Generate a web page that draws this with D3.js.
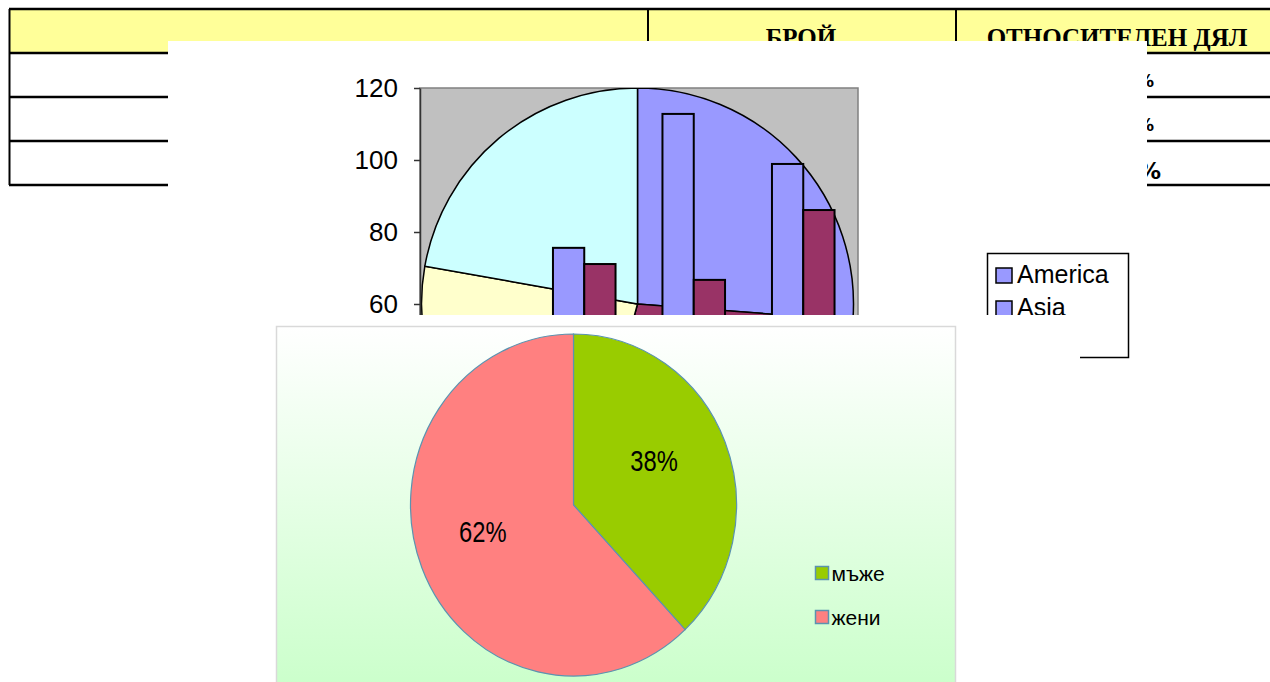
<!DOCTYPE html>
<html>
<head>
<meta charset="utf-8">
<script src="https://cdn.jsdelivr.net/npm/d3@7"></script>
<style>
  body { margin: 0; background: #fff; }
  svg { display: block; }
</style>
</head>
<body>
<div id="chart"></div>
<script>
// table in the background
const tableHeaders = ["", "БРОЙ", "ОТНОСИТЕЛЕН ДЯЛ"];
const tableShares = ["38%", "62%", "100%"];

// bar chart (top picture)
const categories = ["1", "2", "3", "4"];
const seriesNames = ["America", "Asia"];
const americaValues = [48, 75.6, 112.8, 98.9];
const asiaValues = [44, 71.1, 66.7, 86.1];
const yTicks = [0, 20, 40, 60, 80, 100, 120];
const legendNames = ["America", "Asia"];
const pieRegions = ["America", "Asia", "Europe", "Other"];
const pieShares = [26.2, 28, 23.6, 22.2];

// gender pie (bottom picture)
const genders = ["мъже", "жени"];
const genderShares = [38, 62];

const svg = d3.select("#chart")
  .append("svg")
  .attr("width", 1270)
  .attr("height", 682);

const defs = svg.append("defs");

// ---- table ----
const table = svg.append("g");
table.append("rect")
  .attr("x", 10).attr("y", 10)
  .attr("width", 1270).attr("height", 43)
  .attr("fill", "#FFFF99");

const rowLines = [9, 53, 97, 141, 185];
table.selectAll(".hline")
  .data(rowLines)
  .enter()
  .append("line")
  .attr("x1", 9).attr("x2", 1270)
  .attr("y1", d => d).attr("y2", d => d)
  .attr("stroke", "#000")
  .attr("stroke-width", 2.5);

const colLines = [9.5, 648, 956];
table.selectAll(".vline")
  .data(colLines)
  .enter()
  .append("line")
  .attr("x1", d => d).attr("x2", d => d)
  .attr("y1", 9).attr("y2", 185)
  .attr("stroke", "#000")
  .attr("stroke-width", 2);

const headerX = [330, 801, 1117];
table.selectAll(".head")
  .data(tableHeaders)
  .enter()
  .append("text")
  .attr("x", (d, i) => headerX[i])
  .attr("y", 46)
  .attr("text-anchor", "middle")
  .attr("font-family", "Liberation Serif, serif")
  .attr("font-weight", "bold")
  .attr("font-size", 25)
  .text(d => d);

table.selectAll(".share")
  .data(tableShares)
  .enter()
  .append("text")
  .attr("x", (d, i) => i === 2 ? 1161 : 1154)
  .attr("y", (d, i) => rowLines[i + 1] + 34 + (i === 2 ? 4 : 0))
  .attr("text-anchor", "end")
  .attr("font-family", "DejaVu Sans, sans-serif")
  .attr("font-weight", "bold")
  .attr("font-size", (d, i) => i === 2 ? 23 : 17)
  .text(d => d);

// ---- top chart: bars over a pie ----
const topChart = svg.append("g");
topChart.append("rect")
  .attr("x", 168).attr("y", 41)
  .attr("width", 979).attr("height", 330)
  .attr("fill", "#fff");

const plot = { left: 420, top: 88, width: 438, height: 432 };

const y = d3.scaleLinear()
  .domain([0, 120])
  .range([plot.top + plot.height, plot.top]);

const x0 = d3.scaleBand()
  .domain(categories)
  .range([plot.left, plot.left + plot.width]);

// Excel gap width 150%: two bars + 1.5 bar of gap per category
const barW = x0.bandwidth() / 3.5;
const x1 = d3.scaleBand()
  .domain(seriesNames)
  .range([barW * 0.75, barW * 2.75]);

defs.append("clipPath")
  .attr("id", "plotClip")
  .append("rect")
  .attr("x", plot.left).attr("y", plot.top)
  .attr("width", plot.width).attr("height", plot.height);

topChart.append("rect")
  .attr("x", plot.left).attr("y", plot.top)
  .attr("width", plot.width).attr("height", plot.height)
  .attr("fill", "#C0C0C0")
  .attr("stroke", "#808080")
  .attr("stroke-width", 1.5);

const inner = topChart.append("g").attr("clip-path", "url(#plotClip)");

const pieColors = d3.scaleOrdinal()
  .domain(pieRegions)
  .range(["#9999FF", "#993366", "#FFFFCC", "#CCFFFF"]);

const bgPie = d3.pie().sort(null).value(d => d)(pieShares);
const bgArc = d3.arc().innerRadius(0).outerRadius(216);

inner.append("g")
  .attr("transform", "translate(637.5,304)")
  .selectAll("path")
  .data(bgPie)
  .enter()
  .append("path")
  .attr("d", bgArc)
  .attr("fill", (d, i) => pieColors(pieRegions[i]))
  .attr("stroke", "#000")
  .attr("stroke-width", 1.5);

const barColors = d3.scaleOrdinal()
  .domain(seriesNames)
  .range(["#9999FF", "#993366"]);

const barData = categories.map((c, i) => ({
  cat: c,
  values: [
    { name: "America", value: americaValues[i] },
    { name: "Asia", value: asiaValues[i] }
  ]
}));

inner.selectAll(".group")
  .data(barData)
  .enter()
  .append("g")
  .attr("transform", d => `translate(${x0(d.cat)},0)`)
  .selectAll("rect")
  .data(d => d.values)
  .enter()
  .append("rect")
  .attr("x", d => x1(d.name))
  .attr("y", d => y(d.value))
  .attr("width", x1.bandwidth())
  .attr("height", d => y(0) - y(d.value))
  .attr("fill", d => barColors(d.name))
  .attr("stroke", "#000")
  .attr("stroke-width", 2);

const yAxis = topChart.append("g")
  .attr("transform", `translate(${plot.left},0)`)
  .call(d3.axisLeft(y).tickValues(yTicks).tickSize(6).tickSizeOuter(0).tickPadding(16));
yAxis.select(".domain").attr("stroke", "#333").attr("stroke-width", 1.5);
yAxis.selectAll(".tick line").attr("stroke", "#333").attr("stroke-width", 1.5);
yAxis.selectAll(".tick text")
  .attr("font-family", "Liberation Sans, Arial, sans-serif")
  .attr("font-size", 26)
  .attr("fill", "#000");

// legend
const legend = topChart.append("g");
legend.append("rect")
  .attr("x", 987.5).attr("y", 253.5)
  .attr("width", 141).attr("height", 104)
  .attr("fill", "#fff")
  .attr("stroke", "#000")
  .attr("stroke-width", 1.5);

const legendItems = legend.selectAll(".item")
  .data(legendNames)
  .enter()
  .append("g")
  .attr("transform", (d, i) => `translate(996,${268 + i * 33})`);

legendItems.append("rect")
  .attr("width", 16).attr("height", 15)
  .attr("fill", "#9999FF")
  .attr("stroke", "#000")
  .attr("stroke-width", 1.5);

legendItems.append("text")
  .attr("x", 21).attr("y", 15)
  .attr("font-family", "Liberation Sans, Arial, sans-serif")
  .attr("font-size", 25)
  .text(d => d);

// white margin of the lower picture covers the rest of the top chart
svg.append("rect")
  .attr("x", 168).attr("y", 315)
  .attr("width", 912).attr("height", 367)
  .attr("fill", "#fff");

// ---- bottom chart: gender pie ----
const grad = defs.append("linearGradient")
  .attr("id", "greenBg")
  .attr("x1", 0).attr("y1", 0).attr("x2", 0).attr("y2", 1);
grad.append("stop").attr("offset", "0%").attr("stop-color", "#FFFFFF");
grad.append("stop").attr("offset", "100%").attr("stop-color", "#C8FFC8");

const bottom = svg.append("g");
bottom.append("rect")
  .attr("x", 276.5).attr("y", 326.5)
  .attr("width", 679).attr("height", 380)
  .attr("fill", "url(#greenBg)")
  .attr("stroke", "#D9D9D9")
  .attr("stroke-width", 1.5);

const cx = 573.5, cy = 505, rx = 163, ry = 171;
const genderColors = d3.scaleOrdinal()
  .domain(genders)
  .range(["#99CC00", "#FF8080"]);

const gPie = d3.pie().sort(null).value(d => d)(genderShares);
const gArc = d3.arc().innerRadius(0).outerRadius(ry);

bottom.append("g")
  .attr("transform", `translate(${cx},${cy}) scale(${rx / ry},1)`)
  .selectAll("path")
  .data(gPie)
  .enter()
  .append("path")
  .attr("d", gArc)
  .attr("fill", (d, i) => genderColors(genders[i]))
  .attr("stroke", "#5B93B0")
  .attr("stroke-width", 1.2)
  .attr("vector-effect", "non-scaling-stroke");

// labels sit a little above the centroid, as Excel placed them
const labelArc = d3.arc().innerRadius(ry * 0.565).outerRadius(ry * 0.565);
bottom.selectAll(".plabel")
  .data(gPie)
  .enter()
  .append("text")
  .attr("transform", d => {
    const c = labelArc.centroid(d);
    return `translate(${cx + c[0] * rx / ry - 5},${cy + c[1] - 9}) scale(0.82,1)`;
  })
  .attr("text-anchor", "middle")
  .attr("dy", "0.36em")
  .attr("font-family", "Liberation Sans, Arial, sans-serif")
  .attr("font-size", 29)
  .text(d => d.data + "%");

const gLegend = bottom.selectAll(".gitem")
  .data(genders)
  .enter()
  .append("g")
  .attr("transform", (d, i) => `translate(815.5,${566.5 + i * 44})`);

gLegend.append("rect")
  .attr("width", 13).attr("height", 13)
  .attr("fill", d => genderColors(d))
  .attr("stroke", "#5B93B0")
  .attr("stroke-width", 1.5);

gLegend.append("text")
  .attr("x", 16).attr("y", 7)
  .attr("dy", "0.35em")
  .attr("font-family", "Liberation Sans, Arial, sans-serif")
  .attr("font-size", 21)
  .text(d => d);
</script>
</body>
</html>
